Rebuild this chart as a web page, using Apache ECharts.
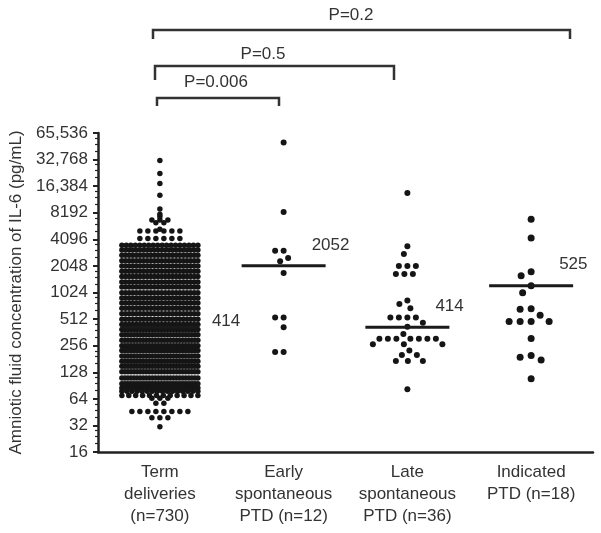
<!DOCTYPE html>
<html>
<head>
<meta charset="utf-8">
<script src="https://cdn.jsdelivr.net/npm/echarts@6/dist/echarts.min.js"></script>
<style>html,body{margin:0;padding:0;background:#fff}#c{width:601px;height:533px}</style>
</head>
<body>
<div id="c"></div>
<script>
// ---------- data ----------
const categories = ['Term\ndeliveries\n(n=730)', 'Early\nspontaneous\nPTD (n=12)', 'Late\nspontaneous\nPTD (n=36)', 'Indicated\nPTD (n=18)'];
const yTickValues = [16, 32, 64, 128, 256, 512, 1024, 2048, 4096, 8192, 16384, 32768, 65536];
const yTickLabels = ['16', '32', '64', '128', '256', '512', '1024', '2048', '4096', '8192', '16,384', '32,768', '65,536'];

// Term deliveries (n=730): rows of dots (value in pg/mL, number of dots in that row)
const termRowValues = [31, 39, 46, 57, 65, 70, 78, 85, 95, 110, 130, 150, 170, 195, 225, 255, 295, 340, 390, 445, 510, 590, 680, 780, 890, 1020, 1180, 1350, 1550, 1780, 2050, 2350, 2700, 3100, 3500, 4180, 5100, 5340, 6300, 6800, 7380, 7900, 9030, 12960, 17600, 22800, 32000];
const termRowCounts = [1, 3, 8, 2, 3, 12, 16, 24, 28, 26, 26, 26, 26, 26, 26, 26, 26, 26, 26, 22, 22, 22, 22, 22, 22, 22, 22, 22, 22, 22, 22, 22, 22, 22, 18, 6, 6, 1, 2, 3, 1, 1, 1, 1, 1, 1, 1];

const earlyValues = [51000, 8350, 3040, 3040, 2520, 2320, 1700, 533, 533, 413, 217, 217];
const lateValues = [13750, 3420, 2800, 2040, 2040, 2040, 1660, 1660, 1660, 833, 760, 680, 533, 533, 533, 533, 466, 420, 347, 307, 307, 307, 307, 307, 307, 307, 265, 265, 265, 225, 201, 201, 172, 172, 172, 82];
const indicatedValues = [6900, 4240, 1760, 1580, 1220, 1020, 670, 660, 565, 480, 480, 480, 480, 309, 198, 189, 176, 108];

const medianValues = [414, 2052, 414, 1220];
const medianLabels = ['414', '2052', '414', '525'];

const pLabels = ['P=0.2', 'P=0.5', 'P=0.006'];

// ---------- chart ----------
const FONT = "'Liberation Sans', Arial, Helvetica, sans-serif";
const chart = echarts.init(document.getElementById('c'), null, {renderer: 'canvas'});

const base = {
  animation: false,
  grid: {left: 98, right: 8, top: 133, bottom: 81, containLabel: false},
  xAxis: {
    type: 'category', data: categories, boundaryGap: true,
    axisLine: {lineStyle: {color: '#222', width: 2.5}},
    axisTick: {alignWithLabel: true, length: 5, lineStyle: {color: '#222', width: 2}},
    axisLabel: {interval: 0, fontSize: 17, lineHeight: 22, color: '#333', margin: 9, fontFamily: FONT},
    splitLine: {show: false}
  },
  yAxis: {
    type: 'log', logBase: 2, min: 16, max: 65536, interval: 1, splitNumber: 12,
    axisLine: {show: true, lineStyle: {color: '#222', width: 2.5}},
    axisTick: {show: true, length: 5, lineStyle: {color: '#222', width: 2}},
    minorTick: {show: true, splitNumber: 4, length: 3, lineStyle: {color: '#222', width: 1.2}},
    splitLine: {show: false},
    axisLabel: {
      fontSize: 17, color: '#333', margin: 10, fontFamily: FONT,
      formatter: function (v) {
        const r = Math.round(v);
        const i = yTickValues.indexOf(r);
        return i >= 0 ? yTickLabels[i] : '';
      }
    },
    name: 'Amniotic fluid concentration of IL-6 (pg/mL)',
    nameLocation: 'middle', nameGap: 73,
    nameTextStyle: {fontSize: 17, color: '#333', fontFamily: FONT}
  },
  graphic: [
    {type: 'polyline', shape: {points: [[153, 39], [153, 30], [570, 30], [570, 39]]}, style: {stroke: '#333', lineWidth: 2.5, fill: null}},
    {type: 'text', x: 351, y: 15, style: {text: pLabels[0], fontSize: 17, fontFamily: FONT, fill: '#333', align: 'center', verticalAlign: 'middle'}},
    {type: 'polyline', shape: {points: [[155, 80], [155, 66], [394, 66], [394, 80]]}, style: {stroke: '#333', lineWidth: 2.5, fill: null}},
    {type: 'text', x: 263, y: 54, style: {text: pLabels[1], fontSize: 17, fontFamily: FONT, fill: '#333', align: 'center', verticalAlign: 'middle'}},
    {type: 'polyline', shape: {points: [[157, 106], [157, 98], [279, 98], [279, 106]]}, style: {stroke: '#333', lineWidth: 2.5, fill: null}},
    {type: 'text', x: 216, y: 82, style: {text: pLabels[2], fontSize: 17, fontFamily: FONT, fill: '#333', align: 'center', verticalAlign: 'middle'}}
  ],
  series: []
};
chart.setOption(base);

function yPix(v) { return chart.convertToPixel({yAxisIndex: 0}, v); }

// row layout (used for the dense term group): dots of one row spread symmetrically, width clamped
function rowLayout(catIdx, values, counts, spacing, halfW) {
  const out = [];
  values.forEach(function (v, r) {
    const n = counts[r];
    const s = n > 1 ? Math.min(spacing, 2 * halfW / (n - 1)) : 0;
    for (let k = 0; k < n; k++) {
      out.push({value: [catIdx, v], symbolOffset: [(k - (n - 1) / 2) * s, 0]});
    }
  });
  return out;
}

// beeswarm layout (small groups): each dot at the nearest free horizontal slot
function swarm(catIdx, values, d) {
  const pts = values.map(function (v) { return {v: v, y: yPix(v)}; });
  pts.sort(function (a, b) { return a.y - b.y; });
  const placed = [];
  const out = [];
  pts.forEach(function (p) {
    let x = 0;
    for (let k = 0; k < 400; k++) {
      const m = Math.ceil(k / 2) * 0.5;
      const cand = k === 0 ? 0 : (k % 2 ? -m : m);
      let ok = true;
      for (let j = 0; j < placed.length; j++) {
        const dx = cand - placed[j].x, dy = p.y - placed[j].y;
        if (dx * dx + dy * dy < d * d - 0.01) { ok = false; break; }
      }
      if (ok) { x = cand; break; }
    }
    placed.push({x: x, y: p.y});
    out.push({value: [catIdx, p.v], symbolOffset: [x, 0]});
  });
  return out;
}

const dotColor = '#151515';
chart.setOption({
  series: [
    {type: 'scatter', name: 'term', symbolSize: 5.5, itemStyle: {color: dotColor, opacity: 1},
     data: rowLayout(0, termRowValues, termRowCounts, 8, 38), z: 2},
    {type: 'scatter', name: 'early', symbolSize: 6, itemStyle: {color: dotColor, opacity: 1},
     data: swarm(1, earlyValues, 8.3), z: 2},
    {type: 'scatter', name: 'late', symbolSize: 6, itemStyle: {color: dotColor, opacity: 1},
     data: swarm(2, lateValues, 8.3), z: 2},
    {type: 'scatter', name: 'indicated', symbolSize: 7, itemStyle: {color: dotColor, opacity: 1},
     data: swarm(3, indicatedValues, 10.8), z: 2},
    {type: 'custom', name: 'median', z: 5,
     data: medianValues.map(function (v, i) { return [i, v]; }),
     renderItem: function (params, api) {
       const p = api.coord([api.value(0), api.value(1)]);
       const i = params.dataIndex;
       const hw = i === 0 ? 39 : 42;
       return {type: 'group', children: [
         {type: 'line', shape: {x1: p[0] - hw, y1: p[1], x2: p[0] + hw, y2: p[1]},
          style: {stroke: '#1a1a1a', lineWidth: 3}},
         {type: 'text', x: p[0] + (i === 0 ? 52 : 28), y: p[1] - (i === 0 ? 6 : 21),
          style: {text: medianLabels[i], fontSize: 17, fontFamily: FONT, fill: '#333', align: 'left', verticalAlign: 'middle'}}
       ]};
     }}
  ]
});
</script>
</body>
</html>
